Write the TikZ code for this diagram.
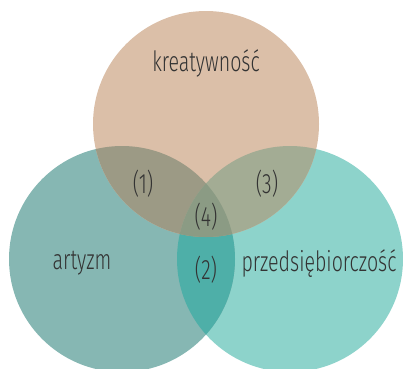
\documentclass[tikz,border=0pt]{standalone}
\usepackage{fontspec}
\setmainfont{Fira Sans Light}[FakeStretch=0.7]
\begin{document}
\definecolor{cTop}{HTML}{DBBFA8}
\definecolor{cLeft}{HTML}{86B7B3}
\definecolor{cRight}{HTML}{8DD3CB}
\definecolor{cLR}{HTML}{4EAFA8}
\definecolor{cLT}{HTML}{9C9A85}
\definecolor{cRT}{HTML}{A3AC94}
\definecolor{cAll}{HTML}{8B9B84}
\definecolor{txt}{HTML}{333333}
\begin{tikzpicture}[x=1pt,y=-1pt,
  lbl/.style={text=txt,font=\fontsize{28}{28}\selectfont,inner sep=0pt}]
\useasboundingbox (0,0) rectangle (403,368);
\begin{scope}
\clip (0,0) rectangle (403,368);
% three sets
\def\rad{113}
\fill[cRight] (290,259) circle (\rad);
\fill[cLeft] (122,259) circle (\rad);
\fill[cTop] (206,124) circle (\rad);
% pairwise overlaps
\begin{scope}\clip (122,259) circle (\rad); \fill[cLR] (290,259) circle (\rad);\end{scope}
\begin{scope}\clip (122,259) circle (\rad); \fill[cLT] (206,124) circle (\rad);\end{scope}
\begin{scope}\clip (290,259) circle (\rad); \fill[cRT] (206,124) circle (\rad);\end{scope}
% common part
\begin{scope}\clip (122,259) circle (\rad); \clip (290,259) circle (\rad); \fill[cAll] (206,124) circle (\rad);\end{scope}
\end{scope}
\node[lbl] (kre) at (206,63) {kreatywność};
\node[lbl] (art) at (82,263) {artyzm};
\node[lbl] (prz) at (319,264) {przedsiębiorczość};
\node[lbl] (n1) at (143,184) {(1)};
\node[lbl] (n3) at (267,184) {(3)};
\node[lbl] (n4) at (206,217) {(4)};
\node[lbl] (n2) at (206,270) {(2)};
\end{tikzpicture}
\end{document}
